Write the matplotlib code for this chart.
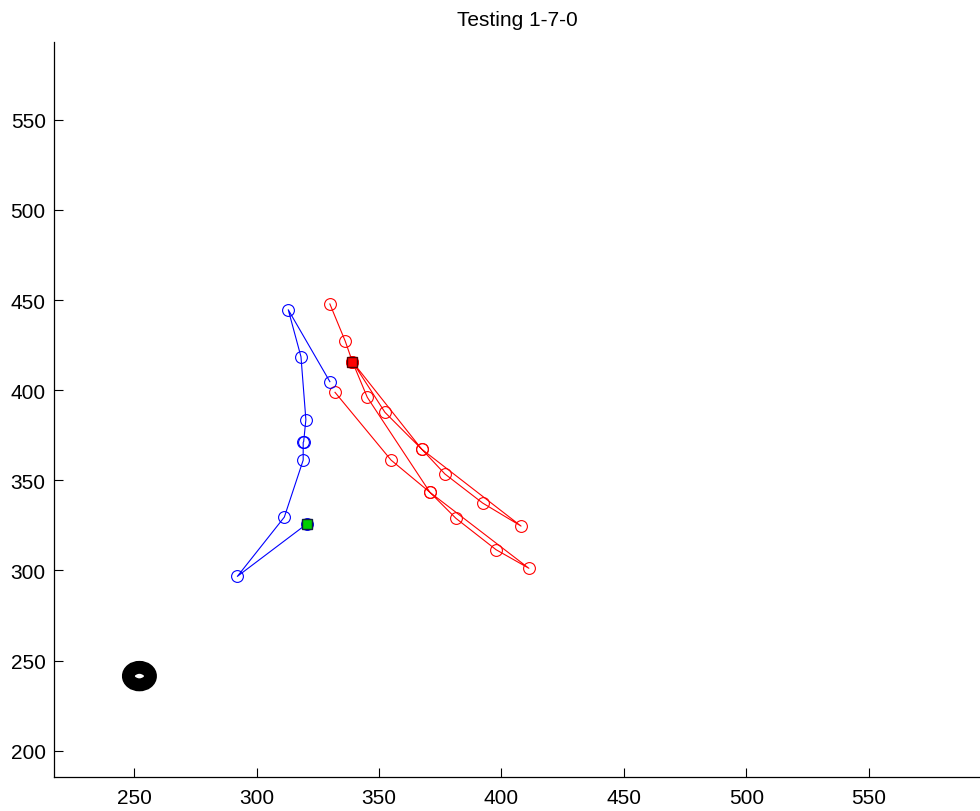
import numpy as np
import matplotlib.pyplot as plt
from matplotlib.patches import Ellipse

plt.rcParams['font.family'] = ['Liberation Sans', 'DejaVu Sans']

# синяя траектория (первая точка - зелёный квадрат)
blue_x = [320.4, 292.1, 311.3, 319.0, 319.0, 319.2, 320.1, 318.1, 312.9, 329.9]
blue_y = [325.7, 296.7, 329.6, 361.2, 371.0, 371.5, 383.6, 418.5, 444.6, 404.7]

# красная траектория
red_x = [329.9, 336.2, 339.1, 352.4, 367.4, 376.9, 392.3, 408.0, 367.4,
         339.1, 345.2, 370.8, 381.4, 397.8, 411.2, 370.8, 354.9, 332.0]
red_y = [447.8, 427.1, 415.8, 387.7, 367.3, 353.5, 337.4, 324.6, 367.3,
         415.8, 396.0, 343.3, 328.9, 311.5, 301.2, 343.3, 361.2, 398.8]

green_pt = (320.4, 325.7)
red_pt = (339.1, 415.8)
ring_pt = (252.1, 241.4)
ring_w, ring_h = 9.0, 9.7  # размер кольца в единицах данных

x_ticks = [250, 300, 350, 400, 450, 500, 550]
y_ticks = [200, 250, 300, 350, 400, 450, 500, 550]

fig = plt.figure(figsize=(9.8, 8.12), dpi=100)
ax = fig.add_axes([54/980, (812-777.7)/812, (980-54)/980, (777.7-43)/812])

ax.plot(red_x, red_y, '-o', color='red', lw=0.8, ms=8.5, mfc='none', mew=0.8)
ax.plot(blue_x, blue_y, '-o', color='blue', lw=0.8, ms=8.5, mfc='none', mew=0.8)

ax.plot(*green_pt, 's', ms=7, mfc='#00d000', mec='#102040', mew=1.0)
ax.plot(*red_pt, 's', ms=7.5, mfc='red', mec='#500000', mew=1.0)

# чёрное кольцо
ax.add_patch(Ellipse(ring_pt, ring_w, ring_h, facecolor='white', edgecolor='black', linewidth=9.3))

ax.set_xlim(217.2, 595.5)
ax.set_ylim(185.6, 593.1)
ax.set_xticks(x_ticks)
ax.set_yticks(y_ticks)
ax.tick_params(direction='in', length=6.5, width=0.8, labelsize=15, pad=6)
ax.tick_params(axis='x', pad=8)

ax.spines['top'].set_visible(False)
ax.spines['right'].set_visible(False)
for s in ['left', 'bottom']:
    ax.spines[s].set_linewidth(0.9)

ax.set_title('Testing 1-7-0', fontsize=15, pad=12)

fig.savefig('out.png', dpi=100)
